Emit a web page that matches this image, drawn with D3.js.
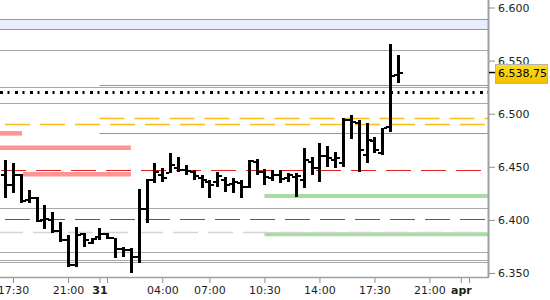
<!DOCTYPE html>
<html>
<head>
<meta charset="utf-8">
<script src="https://cdn.jsdelivr.net/npm/d3@7/dist/d3.min.js"></script>
<style>
  body { margin: 0; background: #fff; }
  svg { display: block; font-family: "DejaVu Sans", Verdana, sans-serif; }
</style>
</head>
<body>
<div id="chart"></div>
<script>
// 30 minute OHLC bars, slot 0 = 17:30 of the 30th
var firstSlot = -1;
var opens  = [6442.3,6432.8,6442.3,6418.7,6420.6,6399.9,6399.9,6389.5,6381.1,6357.5,6386.7,6378.2,6383.9,6386.7,6382.9,6372.6,6371.7,6365.1,6410.3,6437.6,6442.3,6444.1,6448.9,6447.0,6445.1,6439.4,6435.7,6435.7,6437.6,6433.8,6434.7,6431.0,6454.5,6445.1,6439.4,6442.3,6439.4,6440.4,6437.6,6454.5,6448.9,6460.2,6456.4,6453.6,6494.1,6491.2,6461.1,6474.3,6463.0,6487.5,6536.4];
var highs  = [6456.4,6453.6,6443.2,6428.1,6421.6,6414.0,6407.4,6398.0,6385.8,6393.3,6387.6,6382.9,6392.4,6387.6,6382.9,6374.5,6373.6,6429.1,6438.5,6453.6,6448.9,6463.0,6459.2,6451.7,6447.0,6442.3,6437.6,6445.1,6440.4,6439.4,6437.6,6456.4,6457.3,6447.9,6447.0,6447.0,6444.1,6444.1,6467.7,6459.2,6472.4,6469.6,6463.9,6496.0,6498.8,6494.1,6491.2,6478.1,6486.5,6565.6,6555.3];
var lows   = [6420.6,6425.3,6415.9,6415.9,6398.0,6391.4,6387.6,6379.2,6355.6,6355.6,6374.5,6377.3,6381.1,6382.0,6364.1,6365.1,6350.0,6359.4,6397.1,6434.7,6435.7,6444.1,6445.1,6442.3,6437.6,6430.0,6420.6,6431.0,6426.3,6425.3,6420.6,6430.0,6442.3,6432.8,6436.6,6434.7,6435.7,6421.6,6430.0,6442.3,6435.7,6449.8,6448.9,6449.8,6476.2,6445.1,6453.6,6463.0,6461.1,6482.8,6528.9];
var closes = [6432.8,6442.3,6417.8,6420.6,6398.9,6400.8,6389.5,6381.1,6357.5,6385.8,6381.1,6382.0,6386.7,6382.9,6372.6,6371.7,6365.1,6410.3,6437.6,6445.1,6439.4,6451.7,6447.0,6446.0,6441.3,6437.6,6432.8,6441.3,6432.8,6435.7,6431.0,6455.4,6445.1,6440.4,6442.3,6438.5,6442.3,6441.3,6456.4,6448.9,6460.2,6458.3,6458.3,6494.1,6492.2,6465.8,6475.2,6465.8,6486.5,6535.5,6538.75];
var lastPrice = 6538.75;

// axis labels
var tickSlots  = [0, 7, 11, 19, 25, 32, 39, 46, 53, 57];
var tickLabels = ["17:30", "21:00", "31", "04:00", "07:00", "10:30", "14:00", "17:30", "21:00", "apr"];
var boldLabels = ["31", "apr"];
var minorTickSlots = [12, 58];
var priceTicks = [6350, 6400, 6450, 6500, 6550, 6600];

// horizontal levels
var bandLevels = [6579.5, 6589];
var grayLevels = [6560, 6525, 6510, 6411, 6369.5, 6362, 6360];
var dottedLevel = 6520;
var orangeLevels = [6496, 6490];
var orangeFrom = [11, null];
var redLevels = [6447, 6400.5];
var lightGrayLevels = [6389];
var greenThinLevels = [6526.7, 6481.5];
var greenThinFrom = [11, 11];
var greenThickLevels = [6422.5, 6386.5];
var greenThickFrom = [32, 32];
var pinkLevels = [6481.5, 6468, 6443];
var pinkFrom = [null, null, 1.27];
var pinkTo = [1.15, 15, 15];

var W = 550, H = 300, plotR = 488, plotB = 277;

var svg = d3.select("#chart").append("svg")
    .attr("width", W).attr("height", H);

var x = d3.scaleLinear().domain([-1.655, 60.455]).range([0, plotR]);
var y = d3.scaleLinear().domain([6350, 6600]).range([273, 7.5]);

function px(v) { return Math.round(v) + 0.5; }
function sx(s) { return s == null ? 0 : x(s); }

var lines = svg.append("g");

// blue band
lines.append("rect")
  .attr("x", 0).attr("width", plotR)
  .attr("y", y(bandLevels[1])).attr("height", y(bandLevels[0]) - y(bandLevels[1]))
  .attr("fill", "#e8eefd");
bandLevels.forEach(function(v) {
  lines.append("line").attr("x1", 0).attr("x2", plotR)
    .attr("y1", px(y(v))).attr("y2", px(y(v)))
    .attr("stroke", "#6e9de9").attr("stroke-width", 1.2);
});

// gray levels
lines.selectAll(".gray").data(grayLevels).enter().append("line")
  .attr("x1", 0).attr("x2", plotR)
  .attr("y1", function(d) { return px(y(d)); }).attr("y2", function(d) { return px(y(d)); })
  .attr("stroke", "#a8a8a8").attr("stroke-width", 1);

// pink thick
pinkLevels.forEach(function(v, i) {
  lines.append("line").attr("x1", sx(pinkFrom[i])).attr("x2", x(pinkTo[i]))
    .attr("y1", y(v)).attr("y2", y(v))
    .attr("stroke", "#ff9494").attr("stroke-width", 4.5);
});

// green thin and thick
greenThinLevels.forEach(function(v, i) {
  lines.append("line").attr("x1", sx(greenThinFrom[i])).attr("x2", plotR)
    .attr("y1", px(y(v))).attr("y2", px(y(v)))
    .attr("stroke", "#5fbf5a").attr("stroke-width", 1.2);
});
greenThickLevels.forEach(function(v, i) {
  lines.append("line").attr("x1", sx(greenThickFrom[i])).attr("x2", plotR)
    .attr("y1", y(v)).attr("y2", y(v))
    .attr("stroke", "#a9dca3").attr("stroke-width", 4);
});

// dashed levels
var redOffsets = [34, 30];
redLevels.forEach(function(v, i) {
  lines.append("line").attr("x1", 0).attr("x2", plotR)
    .attr("y1", px(y(v))).attr("y2", px(y(v)))
    .attr("stroke", "#e52222").attr("stroke-width", 1.2)
    .attr("stroke-dasharray", "25,10").attr("stroke-dashoffset", redOffsets[i]);
});
var orangeOffsets = [0, 30];
orangeLevels.forEach(function(v, i) {
  lines.append("line").attr("x1", sx(orangeFrom[i])).attr("x2", plotR)
    .attr("y1", px(y(v))).attr("y2", px(y(v)))
    .attr("stroke", "#fcbc1c").attr("stroke-width", 1.4)
    .attr("stroke-dasharray", "25,10").attr("stroke-dashoffset", orangeOffsets[i]);
});
lightGrayLevels.forEach(function(v) {
  lines.append("line").attr("x1", 0).attr("x2", plotR)
    .attr("y1", px(y(v))).attr("y2", px(y(v)))
    .attr("stroke", "#d4d4d4").attr("stroke-width", 1.5)
    .attr("stroke-dasharray", "25,10").attr("stroke-dashoffset", 2);
});

// dotted
lines.append("line").attr("x1", 0).attr("x2", plotR)
  .attr("y1", y(dottedLevel)).attr("y2", y(dottedLevel))
  .attr("stroke", "#000").attr("stroke-width", 3)
  .attr("stroke-dasharray", "3,4.5,2,5.5");

// OHLC bars
var bars = d3.range(opens.length).map(function(i) {
  return { slot: firstSlot + i, o: opens[i], h: highs[i], l: lows[i], c: closes[i] };
});
var g = svg.append("g").attr("shape-rendering", "crispEdges").attr("fill", "#000");
bars.forEach(function(d) {
  var cx = Math.round(x(d.slot));
  g.append("rect").attr("x", cx - 1).attr("width", 3)
    .attr("y", Math.round(y(d.h))).attr("height", Math.max(2, Math.round(y(d.l)) - Math.round(y(d.h))));
  g.append("rect").attr("x", cx - 4).attr("width", 3)
    .attr("y", Math.round(y(d.o)) - 1).attr("height", 2);
  g.append("rect").attr("x", cx + 2).attr("width", 3)
    .attr("y", Math.round(y(d.c)) - 1).attr("height", 2);
});

// axes frame
svg.append("line").attr("x1", plotR + 0.5).attr("x2", plotR + 0.5).attr("y1", 0).attr("y2", plotB)
  .attr("stroke", "#a0a0a0").attr("stroke-width", 2);
svg.append("line").attr("x1", 0).attr("x2", plotR + 1).attr("y1", plotB + 0.5).attr("y2", plotB + 0.5)
  .attr("stroke", "#a0a0a0").attr("stroke-width", 1.5);

// y axis
var yAxis = d3.axisRight(y).tickValues(priceTicks).tickSize(6).tickPadding(3)
  .tickFormat(function(d) { return d3.format(",.0f")(d).replace(/,/g, "."); });
var ya = svg.append("g").attr("transform", "translate(" + (plotR + 1) + ",0)").call(yAxis);
ya.select(".domain").remove();
ya.selectAll(".tick line").attr("stroke", "#909090");
ya.selectAll(".tick text").attr("fill", "#1e1e1e").attr("font-size", 11)
  .attr("font-family", "DejaVu Sans, Verdana, sans-serif");

// x axis
var xAxis = d3.axisBottom(x).tickValues(tickSlots).tickSize(5).tickPadding(3)
  .tickFormat(function(d, i) { return tickLabels[i]; });
var xa = svg.append("g").attr("transform", "translate(0," + (plotB + 1) + ")").call(xAxis);
xa.select(".domain").remove();
xa.selectAll(".tick line").attr("stroke", "#909090");
xa.selectAll(".tick text").attr("fill", "#1e1e1e").attr("font-size", 11)
  .attr("font-family", "DejaVu Sans, Verdana, sans-serif")
  .attr("font-weight", function(d, i) { return boldLabels.indexOf(tickLabels[i]) >= 0 ? "bold" : "normal"; });
minorTickSlots.forEach(function(s) {
  xa.append("line").attr("x1", px(x(s))).attr("x2", px(x(s))).attr("y1", 0).attr("y2", 5)
    .attr("stroke", "#909090");
});

// last price marker
var defs = svg.append("defs");
var grad = defs.append("linearGradient").attr("id", "gold").attr("x1", 0).attr("x2", 0).attr("y1", 0).attr("y2", 1);
grad.append("stop").attr("offset", "0%").attr("stop-color", "#ffdc1e");
grad.append("stop").attr("offset", "100%").attr("stop-color", "#f0c000");
var ly = y(lastPrice);
svg.append("line").attr("x1", plotR + 1).attr("x2", 496).attr("y1", ly).attr("y2", ly)
  .attr("stroke", "#000").attr("stroke-width", 1.5);
svg.append("rect").attr("x", 495.5).attr("y", Math.round(ly) - 8.5).attr("width", 52).attr("height", 19)
  .attr("fill", "url(#gold)").attr("stroke", "#b4b4b4");
svg.append("text").attr("x", 498).attr("y", ly).attr("dy", "0.36em")
  .attr("font-size", 11).attr("fill", "#000")
  .text(d3.format(",.2f")(lastPrice).replace(/,/g, "#").replace(".", ",").replace(/#/g, "."));
</script>
</body>
</html>
